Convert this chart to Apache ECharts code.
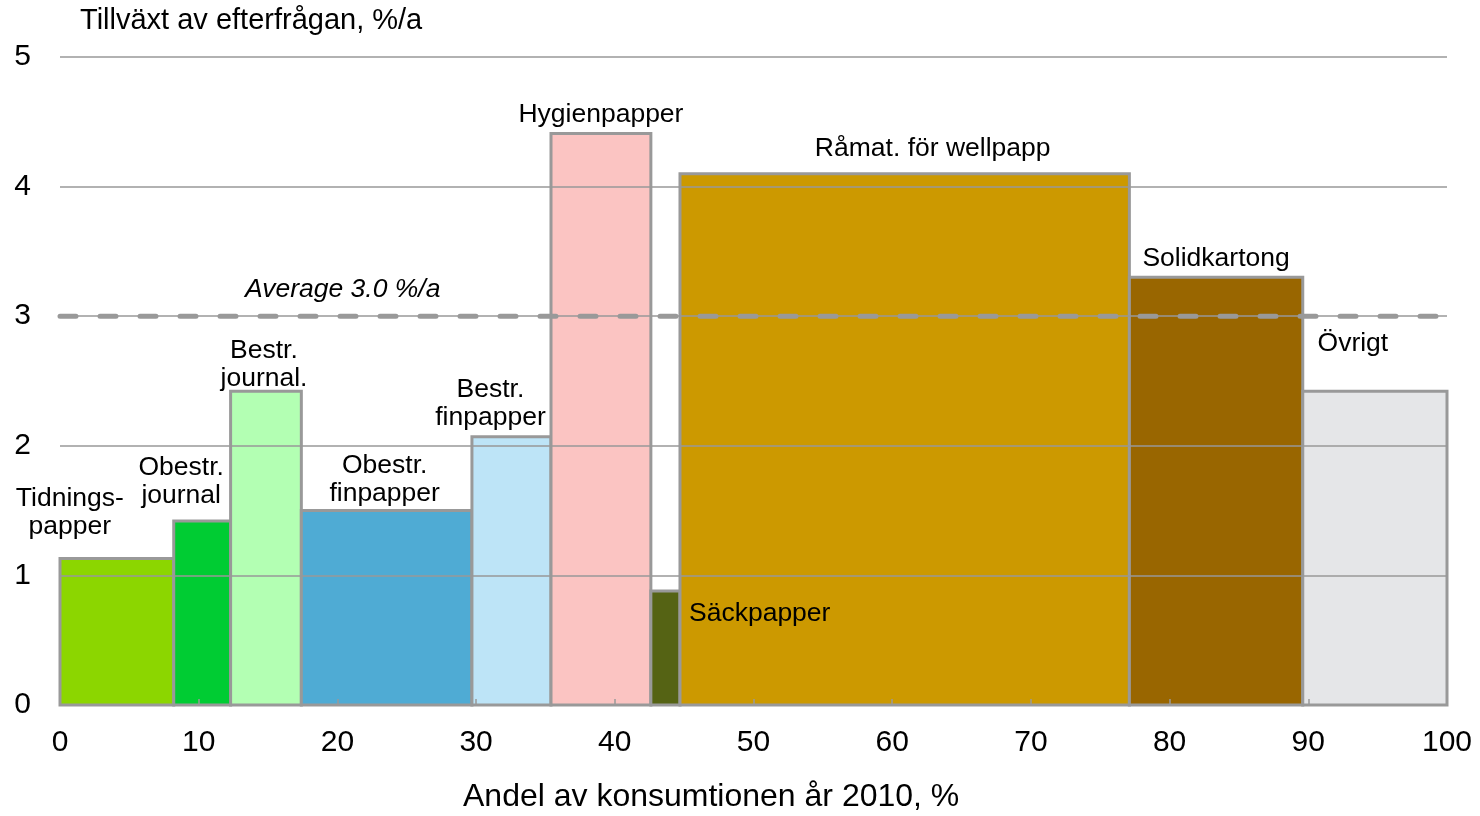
<!DOCTYPE html>
<html>
<head>
<meta charset="utf-8">
<script src="https://cdn.jsdelivr.net/npm/echarts@6/dist/echarts.min.js"></script>
<style>html,body{margin:0;padding:0;background:#fff}#c{width:1480px;height:816px}</style>
</head>
<body>
<div id="c"></div>
<script>
// ---- data ----
const categories = ["Tidnings-\npapper", "Obestr.\njournal", "Bestr.\njournal.", "Obestr.\nfinpapper", "Bestr.\nfinpapper", "Hygienpapper", "Säckpapper", "Råmat. för wellpapp", "Solidkartong", "Övrigt"];
const shares = [8.2, 4.1, 5.1, 12.3, 5.7, 7.2, 2.1, 32.4, 12.5, 10.4];   // width, % of consumption 2010
const growth = [1.13, 1.42, 2.42, 1.50, 2.07, 4.41, 0.88, 4.10, 3.30, 2.42]; // demand growth, %/a
const average = 3.0;
const xTicks = [0, 10, 20, 30, 40, 50, 60, 70, 80, 90, 100];
const yTicks = [0, 1, 2, 3, 4, 5];

// ---- styles ----
const colors = ["#8cd600", "#00cc33", "#b3ffb3", "#4fabd4", "#bde4f7", "#fbc4c2", "#556314", "#cc9900", "#996600", "#e5e6e8"];
// label anchor offsets (px) relative to bar top-centre; text anchored bottom-centre
const labelOffsets = [[-47, -18], [-21, -11], [-2, 1], [-2, -3], [-21, -5], [0, -5], [9, 23], [28, -11], [0, -5], [-22, -34]];
const FONT = "'Liberation Sans', Arial, sans-serif";

const rows = [];
let acc = 0;
for (let i = 0; i < shares.length; i++) {
  rows.push([acc, acc + shares[i], growth[i], i]);
  acc += shares[i];
}

const chart = echarts.init(document.getElementById('c'), null, {renderer: 'canvas'});
chart.setOption({
  animation: false,
  grid: {left: 60, right: 33, top: 57, bottom: 111},
  xAxis: {
    type: 'value', min: xTicks[0], max: xTicks[xTicks.length - 1], interval: 10, z: 5,
    axisLine: {show: true, lineStyle: {color: '#999', width: 2}},
    axisTick: {show: true, inside: true, length: 6, lineStyle: {color: '#999', width: 1.5}},
    axisLabel: {margin: 23, fontSize: 30, color: '#000', fontFamily: FONT},
    splitLine: {show: false}
  },
  yAxis: {
    type: 'value', min: yTicks[0], max: yTicks[yTicks.length - 1], interval: 1, z: 5,
    axisLine: {show: false}, axisTick: {show: false},
    axisLabel: {margin: 29, fontSize: 30, color: '#000', fontFamily: FONT},
    splitLine: {show: true, lineStyle: {color: '#999', width: 1.5}}
  },
  graphic: [
    {type: 'text', left: 80, top: 6, style: {text: 'Tillväxt av efterfrågan, %/a', font: '29px ' + FONT, fill: '#000'}},
    {type: 'text', left: 463, top: 781, style: {text: 'Andel av konsumtionen år 2010, %', font: '32px ' + FONT, fill: '#000'}},
    {type: 'text', left: 245, top: 276, z: 20, style: {text: 'Average ' + average.toFixed(1) + ' %/a', font: 'italic 26.5px ' + FONT, fill: '#000'}}
  ],
  series: [
    {
      type: 'custom', z: 2,
      data: rows,
      encode: {x: [0, 1], y: 2},
      renderItem: function (params, api) {
        const x0 = api.value(0), x1 = api.value(1), h = api.value(2);
        const i = params.dataIndex;
        const p0 = api.coord([x0, h]);
        const p1 = api.coord([x1, 0]);
        const w = p1[0] - p0[0];
        const cx = p0[0] + w / 2;
        const off = labelOffsets[i];
        const isSide = (i === 6);
        return {
          type: 'group',
          children: [
            {type: 'rect', shape: {x: p0[0], y: p0[1], width: w, height: p1[1] - p0[1]},
             style: {fill: colors[i], stroke: '#999', lineWidth: 3}},
            {type: 'text', z2: 50,
             style: {
               text: categories[i],
               x: isSide ? p1[0] + off[0] : cx + off[0],
               y: p0[1] + off[1],
               align: isSide ? 'left' : 'center',
               verticalAlign: isSide ? 'middle' : 'bottom',
               font: '26.5px ' + FONT, lineHeight: 28, fill: '#000'
             }}
          ]
        };
      }
    },
    {
      type: 'line', z: 10, symbol: 'none', silent: true,
      data: [[xTicks[0], average], [xTicks[xTicks.length - 1], average]],
      lineStyle: {color: '#999', width: 5, type: [16, 24], cap: 'round'}
    }
  ]
});
</script>
</body>
</html>
